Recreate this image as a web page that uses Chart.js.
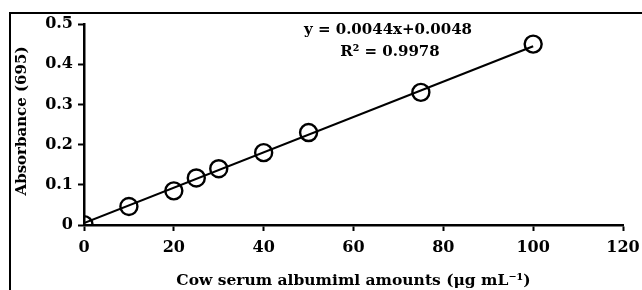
<!DOCTYPE html>
<html>
<head>
<meta charset="utf-8">
<script src="https://cdn.jsdelivr.net/npm/chart.js@4"></script>
<style>
  html, body { margin: 0; padding: 0; background: #fff; }
  #wrap { width: 642px; height: 290px; position: relative; }
</style>
</head>
<body>
<div id="wrap"><canvas id="chart" width="642" height="290"></canvas></div>
<script>
// albumin standard curve readings
const concentrations = [0, 10, 20, 25, 30, 40, 50, 75, 100];
const absorbances = [0.001, 0.046, 0.085, 0.117, 0.140, 0.180, 0.230, 0.330, 0.450];

// fitted line end points (y = 0.0044x + 0.0048)
const fitX = [0, 100];
const fitY = [0.0048, 0.4448];

const xTicks = [0, 20, 40, 60, 80, 100, 120];
const yTickLabels = ['0', '0.1', '0.2', '0.3', '0.4', '0.5'];

const equationText = 'y = 0.0044x+0.0048';
const rSquaredText = 'R² = 0.9978';
const xTitle = 'Cow serum albumiml amounts (μg mL⁻¹)';
const yTitle = 'Absorbance (695)';

const serif = '"DejaVu Serif", "Liberation Serif", serif';

const extras = {
    id: 'extras',
    afterDraw(chart) {
        const ctx = chart.ctx;
        ctx.save();
        // frame around figure (top and left edges)
        ctx.strokeStyle = '#000';
        ctx.lineWidth = 2;
        ctx.beginPath();
        ctx.moveTo(10, 290);
        ctx.lineTo(10, 13);
        ctx.lineTo(642, 13);
        ctx.stroke();

        ctx.fillStyle = '#000';
        ctx.font = 'bold 15px ' + serif;
        ctx.textAlign = 'center';
        ctx.textBaseline = 'middle';
        ctx.fillText(equationText, 388, 30);
        ctx.fillText(rSquaredText, 390, 52);

        ctx.translate(22, 121);
        ctx.rotate(-Math.PI / 2);
        ctx.font = 'bold 15px ' + serif;
        ctx.fillText(yTitle, 0, 0);
        ctx.restore();
    }
};

const ctx = document.getElementById('chart').getContext('2d');
new Chart(ctx, {
    type: 'scatter',
    data: {
        datasets: [
            {
                label: 'fit',
                data: fitX.map((x, i) => ({ x: x, y: fitY[i] })),
                showLine: true,
                borderColor: '#000',
                borderWidth: 2.2,
                pointRadius: 0,
                order: 2
            },
            {
                label: 'samples',
                data: concentrations.map((x, i) => ({ x: x, y: absorbances[i] })),
                pointStyle: 'circle',
                pointRadius: 8.5,
                pointBorderWidth: 2.4,
                pointBorderColor: '#000',
                pointBackgroundColor: 'rgba(0,0,0,0)',
                order: 1
            }
        ]
    },
    options: {
        responsive: false,
        animation: false,
        layout: {
            autoPadding: false,
            padding: { left: 0, right: 19, top: 24, bottom: 0 }
        },
        plugins: {
            legend: { display: false },
            tooltip: { enabled: false }
        },
        scales: {
            x: {
                type: 'linear',
                min: 0,
                max: 120,
                afterBuildTicks: (scale) => {
                    scale.ticks = xTicks.map(v => ({ value: v }));
                },
                afterFit: (scale) => {
                    scale.height = 65;
                    scale.paddingLeft = 0;
                    scale.paddingRight = 0;
                },
                border: { display: true, color: '#000', width: 2.5 },
                grid: {
                    drawOnChartArea: false,
                    drawTicks: true,
                    tickLength: 6,
                    tickWidth: 2,
                    color: '#000'
                },
                ticks: {
                    color: '#000',
                    padding: 7,
                    autoSkip: false,
                    maxRotation: 0,
                    font: { family: serif, size: 16, weight: 'bold' }
                },
                title: {
                    display: true,
                    text: xTitle,
                    color: '#000',
                    padding: { top: 2, bottom: 0 },
                    font: { family: serif, size: 15.5, weight: 'bold' }
                }
            },
            y: {
                type: 'linear',
                min: 0,
                max: 0.5,
                afterBuildTicks: (scale) => {
                    scale.ticks = yTickLabels.map((t, i) => ({ value: i * 0.1 }));
                },
                afterFit: (scale) => {
                    scale.width = 84;
                    scale.paddingTop = 0;
                    scale.paddingBottom = 0;
                },
                border: { display: true, color: '#000', width: 2.5 },
                grid: {
                    drawOnChartArea: false,
                    drawTicks: true,
                    tickLength: 6,
                    tickWidth: 2,
                    color: '#000'
                },
                ticks: {
                    color: '#000',
                    padding: 5,
                    autoSkip: false,
                    callback: (value, index) => yTickLabels[index],
                    font: { family: serif, size: 16, weight: 'bold' }
                }
            }
        }
    },
    plugins: [extras]
});
</script>
</body>
</html>
